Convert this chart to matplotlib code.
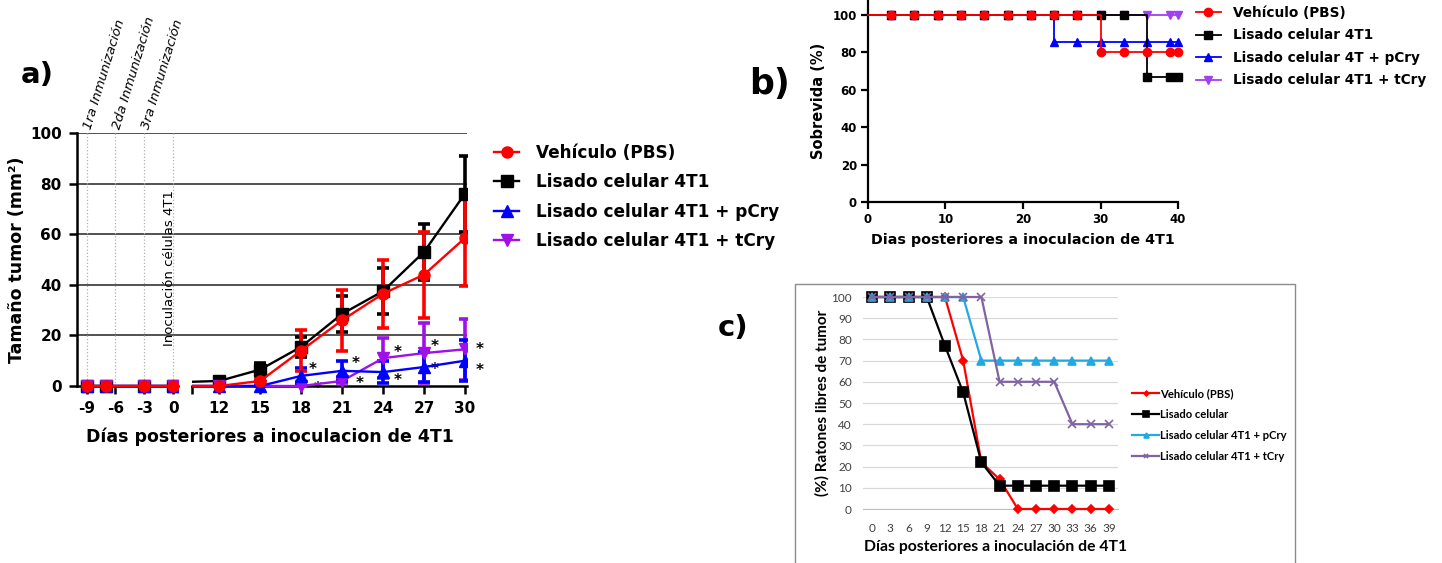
import matplotlib
matplotlib.use("Agg")
import matplotlib.pyplot as plt
from matplotlib.patches import Rectangle
import numpy as np

plt.rcParams["axes.unicode_minus"] = False

W, H = 1442, 563
fig = plt.figure(figsize=(W / 100, H / 100), dpi=100)


def fx(px):
    return px / W


def fy(py):
    return 1 - py / H


# ---------------- data: panel a (tumour size, mm^2) ----------------
days_a = [-9, -7, -3, 0, 12, 15, 18, 21, 24, 27, 30]
veh_a = [0, 0, 0, 0, 0, 2, 14, 26, 36.5, 44, 58.5]
veh_a_err = [0, 0, 0, 0, 0, 0.5, 8, 12, 13.5, 17, 19]
lis_a = [0, 0, 0, 0, 2, 6.5, 15.5, 28.5, 37.5, 53, 76]
lis_a_err = [0, 0, 0, 0, 1, 2.5, 4, 7, 9, 11, 15]
pcry_a = [0, 0, 0, 0, 0, 0, 4, 6, 5.5, 7.5, 10]
pcry_a_err = [0, 0, 0, 0, 0, 0, 3, 4, 4.5, 6, 8]
tcry_a = [0, 0, 0, 0, 0, 0, 0, 2, 11, 13, 14.5]
tcry_a_err = [0, 0, 0, 0, 0, 0, 0, 1, 8, 12, 12]
star_days = [18, 21, 24, 27, 30]
left_ticks_a = [-9, -6, -3, 0]
right_ticks_a = [10, 12, 15, 18, 21, 24, 27, 30]
right_ticklabels_a = ["", "12", "15", "18", "21", "24", "27", "30"]
yticks_a = [0, 20, 40, 60, 80, 100]
imm_days = [-9, -6, -3]
imm_labels = ["1ra Inmunización", "2da Inmunización", "3ra Inmunización"]
inoc_day = 0
inoc_label = "Inoculación células 4T1"
labels_a = ["Vehículo (PBS)", "Lisado celular 4T1",
            "Lisado celular 4T1 + pCry", "Lisado celular 4T1 + tCry"]

# ---------------- data: panel b (survival, %) ----------------
days_b = [0, 3, 6, 9, 12, 15, 18, 21, 24, 27, 30, 33, 36, 39, 40]
veh_b = [100, 100, 100, 100, 100, 100, 100, 100, 100, 100, 80, 80, 80, 80, 80]
lis_b = [100, 100, 100, 100, 100, 100, 100, 100, 100, 100, 100, 100, 66.7, 66.7, 66.7]
pcry_b = [100, 100, 100, 100, 100, 100, 100, 100, 85.7, 85.7, 85.7, 85.7, 85.7, 85.7, 85.7]
tcry_b = [100, 100, 100, 100, 100, 100, 100, 100, 100, 100, 100, 100, 100, 100, 100]
labels_b = ["Vehículo (PBS)", "Lisado celular 4T1",
            "Lisado celular 4T + pCry", "Lisado celular 4T1 + tCry"]

# ---------------- data: panel c (tumour-free mice, %) ----------------
days_c = [0, 3, 6, 9, 12, 15, 18, 21, 24, 27, 30, 33, 36, 39]
veh_c = [100, 100, 100, 100, 100, 70, 22, 14, 0, 0, 0, 0, 0, 0]
lis_c = [100, 100, 100, 100, 77, 55, 22, 11, 11, 11, 11, 11, 11, 11]
pcry_c = [100, 100, 100, 100, 100, 100, 70, 70, 70, 70, 70, 70, 70, 70]
tcry_c = [100, 100, 100, 100, 100, 100, 100, 60, 60, 60, 60, 40, 40, 40]
labels_c = ["Vehículo (PBS)", "Lisado celular",
            "Lisado celular 4T1 + pCry", "Lisado celular 4T1 + tCry"]

RED = "#ff0000"
BLUE = "#0000ff"
PURPLE = "#a010e8"

# ======================= PANEL A =======================
ay0, ay1 = 386, 133
axbg = fig.add_axes([fx(77), fy(ay0), fx(467 - 77), fy(ay1) - fy(ay0)])
axbg.set_xlim(0, 1)
axbg.set_ylim(0, 100)
axbg.set_yticks(yticks_a[1:])
axbg.grid(axis="y", color="#222222", lw=1.1)
axbg.tick_params(left=False, bottom=False, labelleft=False, labelbottom=False)
for s in axbg.spines.values():
    s.set_visible(False)

axL = fig.add_axes([fx(77), fy(ay0), fx(178 - 77), fy(ay1) - fy(ay0)])
axR = fig.add_axes([fx(192), fy(ay0), fx(467 - 192), fy(ay1) - fy(ay0)])
axL.set_xlim(-10, 0.5)
axR.set_xlim(10, 30.15)
for ax in (axL, axR):
    ax.patch.set_visible(False)
    ax.set_ylim(0, 100)
    ax.spines["top"].set_visible(False)
    ax.spines["right"].set_visible(False)
    for s in ax.spines.values():
        s.set_linewidth(1.8)
    ax.tick_params(direction="out", length=6, width=1.8, labelsize=11, pad=5)
axR.spines["left"].set_visible(False)
axR.tick_params(left=False, labelleft=False)
axL.set_xticks(left_ticks_a)
axL.set_yticks(yticks_a)
axR.set_xticks(right_ticks_a)
axR.set_xticklabels(right_ticklabels_a)
for ax in (axL, axR):
    for t in ax.get_xticklabels() + ax.get_yticklabels():
        t.set_fontweight("bold")

for d in imm_days + [inoc_day]:
    axL.axvline(d, color="#b0b0b0", ls=":", lw=0.9, zorder=1)

series_a = [
    (lis_a, lis_a_err, "black", "s"),
    (tcry_a, tcry_a_err, PURPLE, "v"),
    (pcry_a, pcry_a_err, BLUE, "^"),
    (veh_a, veh_a_err, RED, "o"),
]
handles_a = {}
for ax in (axL, axR):
    clip = Rectangle((0, -0.1), 1, 1.2, transform=ax.transAxes)
    for vals, err, c, m in series_a:
        cont = ax.errorbar(days_a, vals, yerr=err, color=c, marker=m, ms=8,
                           lw=1.7, elinewidth=2.6, capsize=4.5, capthick=2.6,
                           zorder=3)
        for art in cont.get_children():
            art.set_clip_path(clip)
        handles_a[c] = cont.lines[0]

# asterisks
star_dx_pcry = [8, 9.5, 10.5, 8, 10.5]
star_dy_pcry = [4.5, 5.5, -6, -2, -7]
star_dx_tcry = [12, 12.5, 10.5, 8, 10.5]
star_dy_tcry = [-1.5, -2, 4, 4.5, 0]
day_idx = [days_a.index(d) for d in star_days]
for k, i in enumerate(day_idx):
    axR.annotate("*", xy=(days_a[i], pcry_a[i]), xytext=(star_dx_pcry[k], star_dy_pcry[k]),
                 textcoords="offset points", ha="center", va="center",
                 fontsize=11, fontweight="bold", annotation_clip=False)
    axR.annotate("*", xy=(days_a[i], tcry_a[i]), xytext=(star_dx_tcry[k], star_dy_tcry[k]),
                 textcoords="offset points", ha="center", va="center",
                 fontsize=11, fontweight="bold", annotation_clip=False)

for d, lab in zip(imm_days, imm_labels):
    axL.text(d + 0.1, 101.5, lab, rotation=73, rotation_mode="anchor",
             ha="left", va="center", fontsize=9.5, style="italic", clip_on=False)
axL.text(inoc_day - 0.4, 16, inoc_label, rotation=90, ha="center", va="bottom",
         fontsize=9.5)

axL.set_ylabel("Tamaño tumor (mm²)", fontsize=12.5, fontweight="bold", labelpad=3)
fig.text(fx(270), fy(437), "Días posteriores a inoculacion de 4T1",
         fontsize=12.5, fontweight="bold", ha="center", va="center")
fig.text(fx(37), fy(75), "a)", fontsize=21, fontweight="bold", ha="center", va="center")

order_a = [RED, "black", BLUE, PURPLE]
fig.legend([handles_a[c] for c in order_a], labels_a, loc="upper left",
           bbox_to_anchor=(fx(494), fy(144)), frameon=False, borderpad=0,
           borderaxespad=0, handlelength=1.5, handletextpad=0.95,
           labelspacing=0.67, prop=dict(size=12.2, weight="bold"))

# ======================= PANEL B =======================
axb = fig.add_axes([fx(868), fy(202), fx(1178 - 868), fy(0) - fy(202)])
axb.set_xlim(0, 40)
axb.set_ylim(0, 108)
axb.spines["top"].set_visible(False)
axb.spines["right"].set_visible(False)
for s in axb.spines.values():
    s.set_linewidth(1.6)
axb.set_xticks([0, 10, 20, 30, 40])
axb.set_yticks([0, 20, 40, 60, 80, 100])
axb.tick_params(direction="out", length=5, width=1.6, labelsize=8.5, pad=3)
for t in axb.get_xticklabels() + axb.get_yticklabels():
    t.set_fontweight("bold")

series_b = [
    (tcry_b, "#a040f0", "v"),
    (pcry_b, BLUE, "^"),
    (lis_b, "black", "s"),
    (veh_b, RED, "o"),
]
handles_b = {}
for vals, c, m in series_b:
    ln, = axb.plot(days_b, vals, color=c, drawstyle="steps-post", lw=1.3,
                   marker=m, ms=6, markevery=slice(1, None), clip_on=False, zorder=3)
    handles_b[c] = ln
axb.set_ylabel("Sobrevida (%)", fontsize=10.5, fontweight="bold", labelpad=5)
axb.set_xlabel("Dias posteriores a inoculacion de 4T1", fontsize=10.3,
               fontweight="bold", labelpad=5)
fig.text(fx(770), fy(84), "b)", fontsize=25, fontweight="bold", ha="center", va="center")
fig.legend([handles_b[c] for c in [RED, "black", BLUE, "#a040f0"]], labels_b,
           loc="upper left", bbox_to_anchor=(fx(1196), fy(6)), frameon=False,
           borderpad=0, borderaxespad=0, handlelength=1.8, handletextpad=0.9,
           labelspacing=0.62, prop=dict(size=9.8, weight="bold"))

# ======================= PANEL C =======================
fig.add_artist(Rectangle((fx(795), -0.02), fx(1295 - 795), fy(284) + 0.02,
                         transform=fig.transFigure, fill=False,
                         edgecolor="#8c8c8c", lw=1.0))
axc = fig.add_axes([fx(863), fy(509), fx(1118 - 863), fy(297) - fy(509)])
axc.set_xlim(-1.5, 40.5)
axc.set_ylim(0, 100)
for k, s in axc.spines.items():
    s.set_visible(k == "bottom")
axc.spines["bottom"].set_color("#bfbfbf")
axc.set_yticks(list(range(0, 101, 10)))
axc.set_xticks(days_c)
axc.grid(axis="y", color="#d9d9d9", lw=0.9)
axc.set_axisbelow(True)
axc.tick_params(length=0, labelsize=8.5, colors="#404040", pad=8)
axc.tick_params(axis="x", pad=10)
for t in axc.get_xticklabels() + axc.get_yticklabels():
    t.set_fontfamily("Lato")

CYAN = "#22a9e1"
EPURPLE = "#8064a2"
series_c = [
    (veh_c, RED, "D", 4),
    (lis_c, "black", "s", 6.5),
    (pcry_c, CYAN, "^", 6),
    (tcry_c, EPURPLE, "x", 6),
]
handles_c = []
for vals, c, m, ms in series_c:
    ln, = axc.plot(days_c, vals, color=c, lw=1.6, marker=m, ms=ms, mew=1.2,
                   clip_on=False, zorder=3)
    handles_c.append(ln)
fig.text(fx(822), fy(403), "(%) Ratones libres de tumor", rotation=90,
         fontsize=11, fontweight="bold", family="Lato", ha="center", va="center")
fig.text(fx(996), fy(547), "Días posteriores a inoculación de 4T1",
         fontsize=11.3, fontweight="bold", family="Lato", ha="center", va="center")
fig.text(fx(733), fy(328), "c)", fontsize=21, fontweight="bold", ha="center", va="center")
fig.legend(handles_c, labels_c, loc="upper left", bbox_to_anchor=(fx(1132), fy(388)),
           frameon=False, borderpad=0, borderaxespad=0, handlelength=2.4,
           handletextpad=0.1, labelspacing=0.9, markerscale=0.6,
           prop=dict(family="Lato", size=8.1, weight="bold"))

fig.savefig("out.png", dpi=100)
